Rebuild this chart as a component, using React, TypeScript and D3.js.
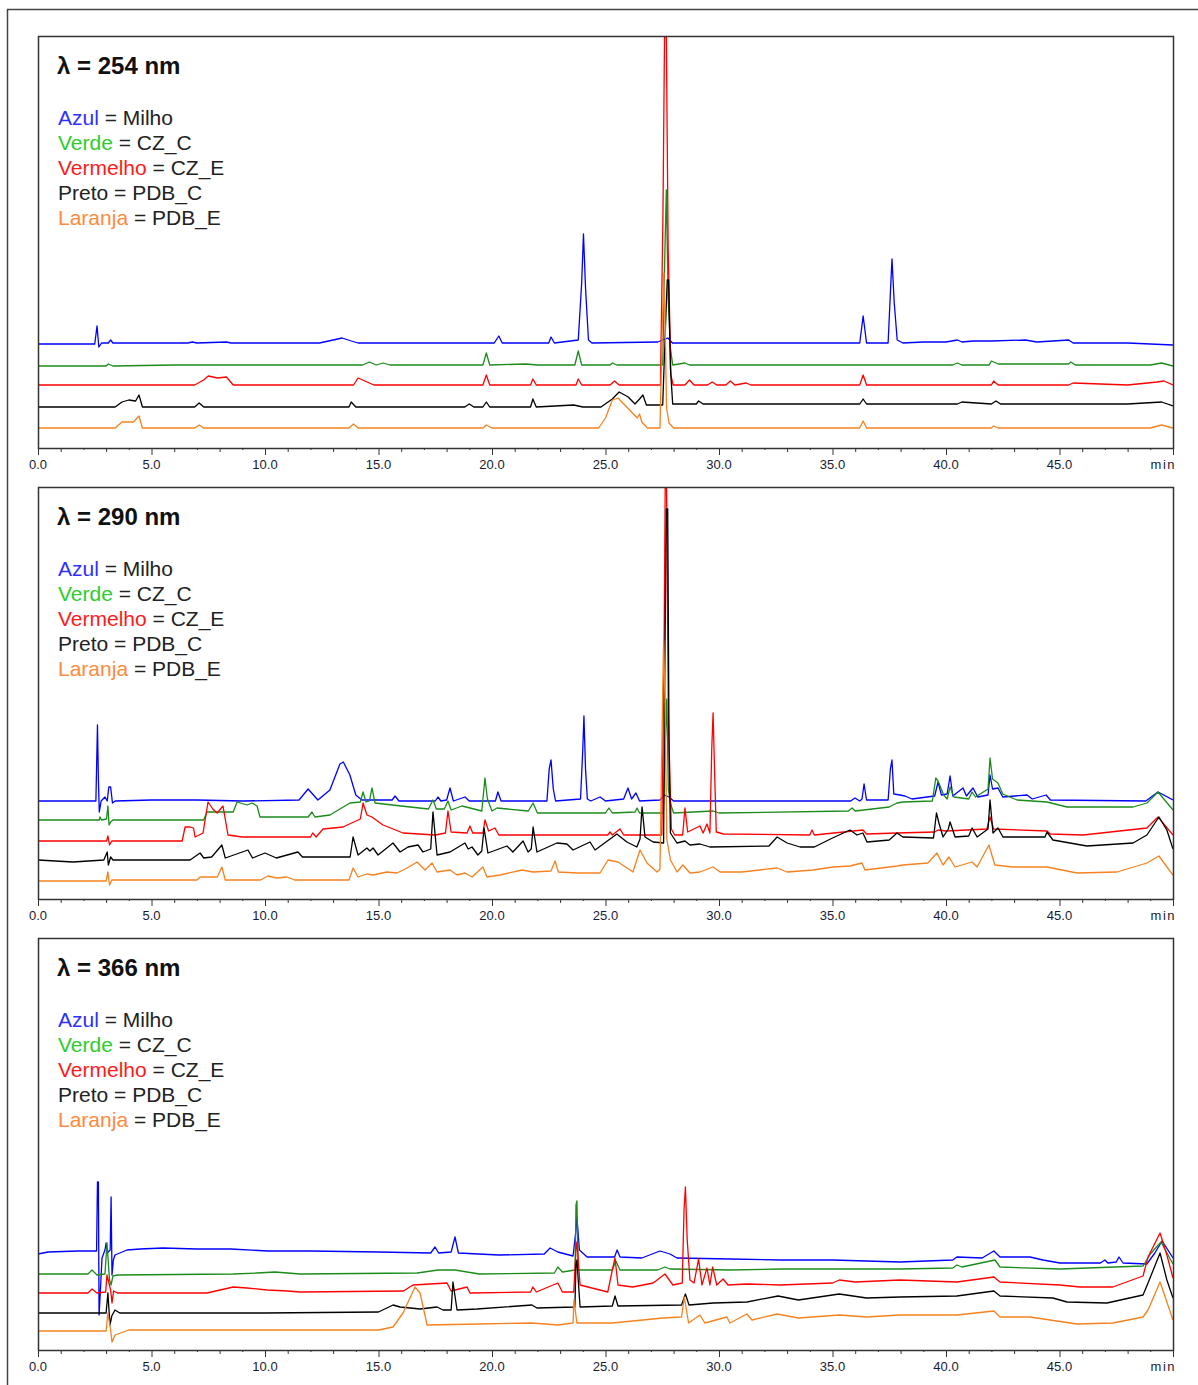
import React from "react";
import * as d3 from "d3";

// chromatograms, time in min, intensity in arbitrary units (0..412 = full panel height)
const wavelengths = ["254", "290", "366"];
const traceColors = ["#0000ff", "#1a8c1a", "#ff0000", "#000000", "#f5821f"];
const legendNames = ["Azul", "Verde", "Vermelho", "Preto", "Laranja"];
const legendSamples = ["Milho", "CZ_C", "CZ_E", "PDB_C", "PDB_E"];
const legendColors = ["#2f2fff", "#2ecc2e", "#ff1a1a", "#222222", "#ff8a3d"];
const majorTicks = [0, 5, 10, 15, 20, 25, 30, 35, 40, 45];

const blue254 = [[0,104],[2.5,104],[2.6,122],[2.68,101],[2.8,105],[3.1,105],[3.2,108],[3.3,105],[6.6,105],[6.8,106],[7,105],[8.3,106],[8.5,105],[12.4,105],[13.0,108],[13.4,110],[13.8,107],[14.1,105],[20.1,105],[20.3,112],[20.45,105],[22.5,105],[22.6,111],[22.75,105],[23.8,108],[23.95,165],[24.03,214],[24.12,160],[24.25,108],[24.4,105],[27.3,106],[27.75,110],[27.95,105],[36.2,105],[36.35,132],[36.5,105],[37.45,105],[37.55,155],[37.62,189],[37.72,145],[37.85,108],[38.1,105],[39,106],[40,106],[40.5,108],[40.7,106],[41.2,107],[42,107],[43.5,108],[44,106],[45.4,108],[45.6,105],[48,105],[49,104],[50,103]];
const green254 = [[0,82],[3,82],[3.1,84],[3.3,82],[6,83],[14.3,83],[14.6,86],[14.9,83],[15.2,85],[15.5,83],[19.6,83],[19.75,95],[19.9,83],[21.5,84],[22,83],[23.65,83],[23.8,97],[23.95,83],[25.2,83],[25.3,85],[25.5,83],[27.52,83],[27.62,200],[27.68,258],[27.76,150],[27.86,100],[27.96,83],[28.5,85],[28.7,83],[40.3,83],[40.5,85],[40.7,83],[41.9,83],[42.0,87],[42.3,84],[45.4,84],[45.5,86],[45.7,83],[49,83],[49.5,85],[50,82]];
const red254 = [[0,63],[6.9,63],[7.3,68],[7.5,72],[7.9,70],[8.3,71],[8.6,63],[13.9,63],[14.1,70],[14.3,68],[14.6,65],[14.8,63],[19.6,63],[19.75,73],[19.9,63],[21.7,63],[21.8,69],[21.95,63],[23.7,63],[23.8,69],[23.95,63],[25.2,63],[25.4,67],[25.6,63],[27.42,63],[27.53,230],[27.6,411],[27.68,411],[27.76,200],[27.88,73],[27.98,63],[28.5,63],[28.7,68],[28.9,63],[29.5,63],[29.7,66],[29.9,63],[30.3,63],[30.5,67],[30.7,63],[31.2,65],[31.4,63],[36.2,63],[36.35,73],[36.5,63],[42,63],[42.1,67],[42.3,63],[45.4,63],[45.6,65],[48,63],[49.3,66],[49.6,67],[50,63]];
const black254 = [[0,41],[3.4,41],[3.7,46],[4.0,48],[4.3,47],[4.45,53],[4.6,41],[6.9,41],[7.1,45],[7.3,41],[13.7,41],[13.8,46],[14,41],[18.8,41],[19,44],[19.2,41],[19.6,41],[19.75,46],[19.9,41],[21.7,41],[21.8,49],[21.95,41],[23.6,43],[24,41],[24.8,41],[25.3,49],[25.6,56],[26.0,51],[26.3,44],[26.5,49],[26.65,53],[26.8,43],[27.52,43],[27.64,120],[27.72,168],[27.78,168],[27.86,80],[27.96,44],[29,44],[29.1,47],[29.3,44],[36.2,44],[36.35,49],[36.5,44],[40.5,44],[40.7,46],[42,44],[42.2,47],[42.4,44],[48,44],[49.5,46],[50,42]];
const orange254 = [[0,20],[3.4,20],[3.7,26],[4.2,26],[4.45,32],[4.6,20],[6.9,20],[7.1,23],[7.3,20],[13.7,20],[13.9,24],[14.1,20],[19.6,20],[19.75,23],[20,20],[24.7,20],[25.0,30],[25.3,48],[25.55,50],[26.4,30],[26.5,34],[26.6,26],[26.85,20],[27.4,20],[27.5,120],[27.57,175],[27.63,120],[27.69,40],[27.8,25],[28,20],[36.2,20],[36.35,27],[36.5,20],[42,20],[42.1,22],[42.3,20],[49,20],[49.5,23],[50,20]];

const blue290 = [[0,98],[2.55,98],[2.62,174],[2.66,120],[2.7,87],[2.78,98],[2.95,102],[3.05,98],[3.12,112],[3.2,112],[3.28,96],[3.4,98],[5,99],[7,99],[9,98],[11.5,99],[11.9,110],[12.33,99],[12.86,109],[13.3,135],[13.45,137],[13.74,124],[14.0,104],[14.27,99],[15.6,99],[15.73,103],[15.9,98],[17.5,98],[17.62,102],[17.75,98],[18.0,99],[18.15,111],[18.3,98],[18.81,102],[19.0,98],[20.15,98],[20.26,107],[20.4,98],[22.42,98],[22.52,130],[22.6,139],[22.7,110],[22.8,98],[23.9,100],[24.0,150],[24.05,183],[24.12,130],[24.2,100],[24.35,98],[24.76,102],[25.0,98],[25.8,100],[25.99,111],[26.15,100],[26.34,106],[26.5,98],[27.4,99],[27.6,104],[27.8,102],[28,98],[35.8,98],[35.99,101],[36.2,98],[36.3,100],[36.39,115],[36.5,99],[37.45,99],[37.55,130],[37.62,139],[37.7,105],[37.97,104],[38.19,103],[38.5,100],[39.5,103],[39.65,117],[39.8,104],[40.05,105],[40.18,123],[40.3,103],[40.75,111],[40.9,103],[41.19,111],[41.4,102],[41.85,104],[41.94,124],[42.05,110],[42.29,111],[42.5,102],[43.57,104],[43.8,100],[44.41,104],[44.6,99],[48.8,98],[49.34,107],[50,99]];
const green290 = [[0,79],[2.7,79],[2.73,82],[2.8,79],[3.02,80],[3.08,93],[3.13,74],[3.2,77],[3.3,79],[7.3,79],[7.44,87],[8.6,87],[8.77,97],[9.21,94],[9.43,96],[9.65,93],[9.78,82],[11.9,82],[12.07,87],[12.2,82],[12.86,84],[13.74,96],[14.2,97],[14.32,107],[14.45,97],[14.6,98],[14.71,111],[14.85,96],[16,93],[17.2,90],[17.4,99],[17.55,90],[17.9,90],[18.06,98],[18.2,89],[18.68,93],[19.03,91],[19.55,88],[19.69,121],[19.8,100],[20.0,88],[20.22,91],[21.6,88],[21.81,96],[22,86],[25.0,86],[25.15,91],[25.3,86],[26.3,87],[26.39,91],[26.5,86],[27.55,86],[27.64,160],[27.7,200],[27.77,109],[27.87,95],[28.0,86],[29.74,88],[30.0,86],[35.7,88],[35.86,91],[36.0,88],[37.5,92],[37.84,96],[38.1,97],[39.4,98],[39.55,121],[39.65,118],[39.9,104],[40.05,100],[40.18,112],[40.35,102],[41.0,100],[41.15,107],[41.3,102],[41.85,110],[41.94,141],[42.05,120],[42.29,116],[42.5,105],[43.13,99],[44.45,97],[45.33,92],[48.24,92],[48.85,96],[49.34,107],[50,89]];
const red290 = [[0,58],[3.02,58],[3.08,63],[3.15,54],[3.25,58],[6.35,58],[6.48,72],[6.7,72],[6.85,71],[6.92,62],[7.27,66],[7.49,97],[7.7,90],[7.89,86],[8.15,93],[8.37,64],[9,62],[12.0,62],[12.1,66],[12.25,62],[12.56,70],[13.44,72],[14.2,80],[14.32,96],[14.49,84],[14.71,82],[15.2,74],[16.08,66],[17.5,64],[17.95,66],[18.06,88],[18.2,67],[18.9,66],[19.03,73],[19.15,66],[19.6,66],[19.69,79],[19.85,68],[20.13,71],[20.3,64],[25.1,64],[25.2,67],[25.3,64],[25.64,70],[25.8,64],[27.48,64],[27.58,250],[27.63,411],[27.69,411],[27.77,180],[27.9,70],[28.05,64],[28.4,64],[28.5,91],[28.62,67],[29.16,73],[29.3,66],[29.47,75],[29.6,66],[29.68,150],[29.74,186],[29.8,132],[29.88,67],[30.2,65],[34.0,64],[34.1,69],[34.2,64],[36.34,69],[36.5,65],[37.84,66],[39.5,67],[39.65,69],[40,68],[41.8,70],[41.94,82],[42.1,70],[44.45,68],[44.6,65],[46.04,64],[48.85,71],[49.34,82],[50,64]];
const black290 = [[0,39],[1.54,37],[2.9,39],[3.05,47],[3.1,34],[3.2,42],[3.3,39],[6.7,39],[7.14,46],[7.3,41],[7.65,42],[8.1,54],[8.25,41],[9.25,49],[9.45,41],[10.0,46],[10.5,41],[11.45,47],[11.65,42],[13.75,42],[13.88,62],[14.1,44],[14.49,51],[14.62,48],[14.76,51],[14.98,44],[15.64,56],[15.95,47],[16.3,52],[16.74,54],[16.96,47],[17.3,50],[17.4,87],[17.58,44],[18.15,47],[18.81,56],[18.95,50],[19.12,52],[19.38,44],[19.55,48],[19.65,71],[19.82,46],[20.66,53],[20.92,47],[21.37,58],[21.59,47],[21.73,50],[21.81,72],[21.98,47],[22.86,56],[23.3,55],[23.57,49],[24.32,57],[24.54,49],[25.5,65],[25.94,57],[26.38,52],[26.52,60],[26.61,92],[26.74,62],[27.1,57],[27.56,56],[27.62,250],[27.68,390],[27.74,390],[27.8,150],[27.86,66],[28.15,56],[28.5,58],[28.72,54],[29.16,55],[29.6,52],[32.2,53],[32.56,62],[33.0,56],[33.57,52],[34.2,52],[35.0,61],[35.77,69],[36.08,64],[36.34,66],[36.52,57],[37.5,59],[37.84,66],[38.1,62],[39.45,61],[39.58,86],[39.7,75],[39.87,62],[40.1,70],[40.18,77],[40.4,62],[41.0,63],[41.15,71],[41.37,62],[41.85,70],[41.94,99],[42.07,66],[42.29,71],[42.51,62],[44.36,62],[44.45,67],[44.71,59],[46.21,53],[48.24,56],[48.85,64],[49.38,82],[49.73,69],[50,50]];
const orange290 = [[0,18],[3.0,18],[3.08,27],[3.15,14],[3.25,19],[7.0,19],[7.14,22],[7.9,22],[8.1,32],[8.25,19],[9.8,19],[10.13,23],[10.52,21],[10.97,22],[11.3,19],[13.7,19],[13.88,31],[14.1,22],[14.49,25],[14.76,24],[15.37,27],[15.81,26],[16.26,31],[16.7,37],[17.05,29],[17.36,36],[17.58,27],[18.15,29],[18.46,24],[18.81,26],[19.12,22],[19.6,32],[19.78,22],[20.35,24],[21.32,29],[21.81,27],[22.6,28],[22.78,38],[22.92,27],[23.75,26],[24.76,26],[25.11,39],[25.55,37],[26.21,27],[26.52,49],[26.83,36],[27.27,27],[27.4,30],[27.5,180],[27.56,259],[27.62,200],[27.7,60],[27.86,39],[28.15,27],[28.41,34],[28.72,26],[29.16,27],[29.74,32],[30.05,27],[31.0,27],[32.56,31],[33.0,27],[34.14,29],[35.02,32],[35.77,33],[36.3,36],[36.43,29],[37.84,33],[38.1,34],[39.2,36],[39.6,46],[39.87,34],[40.13,42],[40.4,32],[41.15,37],[41.37,32],[41.89,54],[42.15,34],[42.95,32],[44.45,32],[45.77,26],[47.53,27],[48.85,36],[49.38,43],[50,24]];

const blue366 = [[0,96],[0.44,98],[1.76,99],[2.58,99],[2.62,168],[2.66,168],[2.69,35],[2.75,60],[2.82,92],[2.95,100],[3.0,107],[3.05,97],[3.18,100],[3.22,153],[3.26,75],[3.32,90],[3.39,95],[3.92,100],[4.5,101],[5.5,102],[7,101],[8.5,101],[10.1,99],[12,99],[15,98],[17.3,97],[17.49,103],[17.65,97],[18.2,98],[18.37,113],[18.52,97],[20.3,95],[22.3,96],[22.56,102],[22.9,98],[23.57,94],[23.7,120],[23.74,133],[23.85,100],[24.19,93],[25.4,93],[25.51,100],[25.64,93],[26.6,92],[27.4,99],[27.84,96],[28.15,92],[30.48,91],[32.7,90],[35,90],[37.97,88],[40.3,90],[40.48,93],[41.59,92],[42.11,99],[42.38,93],[43.7,93],[44.27,90],[45.02,87],[46.8,87],[47.0,90],[47.13,87],[47.5,88],[47.62,93],[47.8,87],[48.85,86],[49.2,97],[49.52,109],[50,92]];
const green366 = [[0,76],[2.2,76],[2.38,80],[2.6,75],[2.95,76],[3.04,107],[3.15,70],[3.22,65],[3.3,74],[3.5,75],[8.6,76],[9.65,77],[10.44,78],[11.54,76],[16.7,77],[17.62,80],[18.37,80],[19.45,76],[22.75,77],[22.9,83],[23.1,78],[23.66,80],[23.7,145],[23.74,149],[23.8,80],[25.3,80],[25.46,89],[25.64,80],[27.3,80],[27.62,83],[27.84,81],[30.48,80],[32.7,81],[37.97,81],[40.3,82],[40.48,85],[40.7,83],[42.16,90],[42.38,83],[45.02,81],[48.68,84],[49.0,96],[49.47,108],[50,86]];
const red366 = [[0,57],[2.2,57],[2.38,61],[2.6,57],[2.98,58],[3.04,75],[3.2,60],[3.26,47],[3.33,59],[3.5,57],[7.44,57],[8.6,63],[9.21,62],[10.1,60],[11.0,59],[11.54,58],[16.1,59],[16.52,65],[18.02,67],[18.2,59],[18.9,63],[19.03,57],[21.7,58],[21.8,63],[21.95,58],[22.9,67],[23.1,58],[23.6,58],[23.7,100],[23.74,108],[23.88,65],[25.1,58],[25.3,80],[25.42,92],[25.55,65],[26.2,63],[27.1,67],[27.62,76],[27.97,65],[28.38,67],[28.46,140],[28.52,163],[28.6,110],[28.72,70],[28.9,67],[29.1,91],[29.25,65],[29.47,82],[29.6,65],[29.72,83],[29.9,65],[30.18,71],[30.4,65],[31.2,66],[32.7,65],[35.0,67],[35.3,70],[36,68],[37.97,70],[40.48,68],[42.11,73],[42.38,68],[45.02,65],[45.9,63],[47.35,63],[48.68,74],[48.9,93],[49.43,117],[49.73,95],[50,72]];
const black366 = [[0,37],[3.0,37],[3.08,57],[3.17,25],[3.25,34],[3.39,40],[3.6,37],[10,37],[15.0,38],[15.64,45],[15.95,43],[16.83,41],[17.58,43],[17.84,40],[18.2,40],[18.28,68],[18.46,40],[19.34,41],[21.76,45],[21.98,42],[23.65,43],[23.7,85],[23.74,90],[23.88,43],[25.3,44],[25.42,54],[25.55,44],[28.35,45],[28.52,56],[28.68,45],[29.74,47],[31.23,48],[32.6,54],[33.5,50],[35.3,56],[36.5,52],[37.97,53],[40.48,54],[42.11,59],[42.38,54],[44.71,52],[45.33,48],[47.09,47],[48.68,55],[48.9,67],[49.43,97],[49.73,70],[50,52]];
const orange366 = [[0,19],[3.0,19],[3.08,37],[3.2,20],[3.26,8],[3.39,15],[4.0,20],[15.0,20],[15.64,23],[16.08,37],[16.61,63],[16.83,57],[17.14,25],[19.45,26],[21.76,27],[22.9,25],[23.57,27],[23.61,50],[23.74,27],[25.3,27],[27.53,32],[28.35,33],[28.47,53],[28.66,27],[29.16,35],[29.38,27],[30.35,33],[30.48,27],[31.23,36],[31.45,30],[32.56,36],[33.5,32],[35.3,35],[36.5,33],[37.97,35],[40.48,35],[42.11,39],[42.38,33],[43.7,33],[45.77,26],[47.35,27],[48.68,33],[48.9,40],[49.43,68],[50,30]];

const panelTraces = [
  [blue254, green254, red254, black254, orange254],
  [blue290, green290, red290, black290, orange290],
  [blue366, green366, red366, black366, orange366],
];

const left = 38;
const right = 1173;
const plotH = 412;
const panelTops = [36, 487, 938];

const x = d3.scaleLinear().domain([0, 50]).range([left, right]);
const fmt = d3.format(".1f");
const font = "Arial, 'Liberation Sans', sans-serif";

const Panel = ({ idx }: { idx: number }) => {
  const top = panelTops[idx];
  const bottom = top + plotH;
  const y = d3.scaleLinear().domain([0, plotH]).range([bottom, top]);
  const line = d3
    .line<number[]>()
    .x(d => x(d[0]))
    .y(d => y(d[1]));
  const minor = d3.range(0, 51);

  return (
    <g>
      <defs>
        <clipPath id={`clip${idx}`}>
          <rect x={left} y={top} width={right - left} height={plotH} />
        </clipPath>
      </defs>
      <g clipPath={`url(#clip${idx})`}>
        {panelTraces[idx].map((data, i) => (
          <path
            key={i}
            d={line(data) || ""}
            fill="none"
            stroke={traceColors[i]}
            strokeWidth={1.3}
            strokeLinejoin="round"
          />
        ))}
      </g>
      <rect
        x={left + 0.5}
        y={top + 0.5}
        width={right - left}
        height={plotH}
        fill="none"
        stroke="#333"
        strokeWidth={1.5}
      />
      {minor.map(t => {
        const m = t % 5;
        const len = m === 0 ? 7 : m % 2 === 1 ? 4 : 2;
        return (
          <line
            key={t}
            x1={x(t) + 0.5}
            x2={x(t) + 0.5}
            y1={bottom}
            y2={bottom + len}
            stroke="#333"
            strokeWidth={1}
          />
        );
      })}
      {majorTicks.map(t => (
        <text
          key={t}
          x={x(t)}
          y={bottom + 21}
          textAnchor="middle"
          fontSize={13}
          fontFamily={font}
          fill="#1a1a33"
        >
          {fmt(t)}
        </text>
      ))}
      <text
        x={right + 3}
        y={bottom + 21}
        textAnchor="end"
        fontSize={13}
        fontFamily={font}
        letterSpacing={1.5}
        fill="#1a1a33"
      >
        min
      </text>
      <text
        x={57}
        y={top + 38}
        fontSize={24}
        fontWeight="bold"
        fontFamily={font}
        fill="#111"
      >
        {`λ = ${wavelengths[idx]} nm`}
      </text>
      {legendNames.map((name, i) => (
        <text
          key={name}
          x={58}
          y={top + 89 + i * 25}
          fontSize={21}
          fontFamily={font}
          fill="#222"
        >
          <tspan fill={legendColors[i]}>{name}</tspan>
          <tspan>{` = ${legendSamples[i]}`}</tspan>
        </text>
      ))}
    </g>
  );
};

export default function App() {
  return (
    <svg
      width={1198}
      height={1385}
      style={{ position: "absolute", left: 0, top: 0, background: "#fff" }}
    >
      <rect x={0} y={0} width={1198} height={1385} fill="#fff" />
      <path d="M7.5,1385 L7.5,9.5 L1198,9.5" fill="none" stroke="#444" strokeWidth={1.5} />
      {[0, 1, 2].map(i => (
        <Panel key={i} idx={i} />
      ))}
    </svg>
  );
}
